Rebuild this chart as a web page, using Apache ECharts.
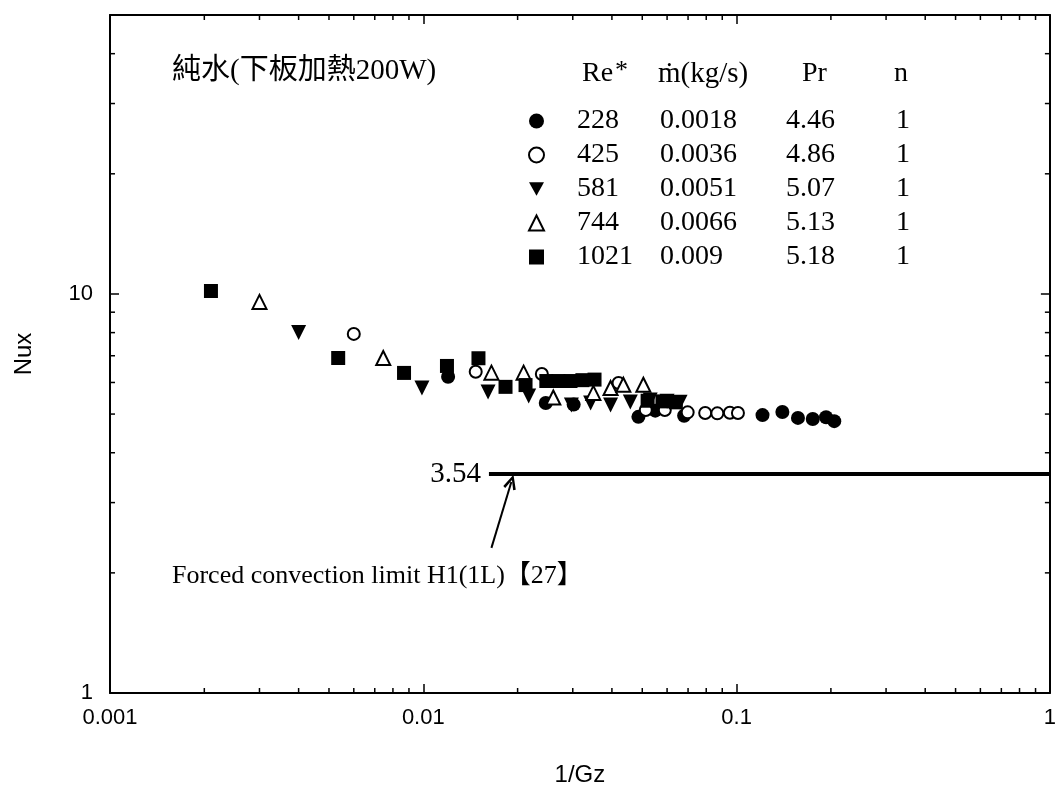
<!DOCTYPE html>
<html>
<head>
<meta charset="utf-8">
<script src="https://cdn.jsdelivr.net/npm/echarts@6/dist/echarts.min.js"></script>
<style>
  html, body { margin: 0; padding: 0; background: #fff; }
  #chart { width: 1059px; height: 796px; }
</style>
</head>
<body>
<div id="chart"></div>
<script>
// legend table
const reNames = ['228', '425', '581', '744', '1021'];
const massFlow = ['0.0018', '0.0036', '0.0051', '0.0066', '0.009'];
const prandtl = ['4.46', '4.86', '5.07', '5.13', '5.18'];
const nValues = ['1', '1', '1', '1', '1'];

// [1/Gz, Nux]
const re228 = [[0.012, 6.2], [0.0246, 5.33], [0.0302, 5.28], [0.0486, 4.92], [0.055, 5.1], [0.068, 4.95],
  [0.121, 4.97], [0.14, 5.06], [0.157, 4.89], [0.175, 4.86], [0.193, 4.91], [0.205, 4.8]];
const re425 = [[0.006, 7.94], [0.0147, 6.38], [0.0239, 6.3], [0.042, 5.98], [0.0513, 5.12], [0.059, 5.12],
  [0.0698, 5.05], [0.0794, 5.03], [0.0868, 5.02], [0.0952, 5.04], [0.101, 5.03]];
const re581 = [[0.004, 8.0], [0.0099, 5.81], [0.0161, 5.68], [0.0217, 5.55], [0.0297, 5.27], [0.0342, 5.33],
  [0.0396, 5.27], [0.0458, 5.36], [0.053, 5.42], [0.06, 5.38], [0.066, 5.35]];
const re744 = [[0.003, 9.55], [0.00745, 6.91], [0.0165, 6.35], [0.0209, 6.35], [0.026, 5.5], [0.0349, 5.65],
  [0.0396, 5.81], [0.0435, 5.92], [0.0504, 5.92]];
const re1021 = [[0.0021, 10.17], [0.00535, 6.91], [0.00868, 6.34], [0.0119, 6.6], [0.015, 6.9], [0.0183, 5.85],
  [0.0212, 5.91], [0.0247, 6.05], [0.027, 6.05], [0.0295, 6.05], [0.0322, 6.08], [0.0352, 6.1],
  [0.052, 5.4], [0.058, 5.38], [0.064, 5.35]];

// forced convection limit line and its arrow
const limitNu = 3.54;
const limitRange = [0.0162, 1];
const arrowTail = [0.0165, 2.31];
const arrowHead = [0.0191, 3.38];

const xTickLabels = ['0.001', '0.01', '0.1', '1'];
const yTickLabels = ['1', '10'];
const xMinorTicks = [0.002, 0.003, 0.004, 0.005, 0.006, 0.007, 0.008, 0.009,
  0.02, 0.03, 0.04, 0.05, 0.06, 0.07, 0.08, 0.09,
  0.2, 0.3, 0.4, 0.5, 0.6, 0.7, 0.8, 0.9];
const yMinorTicks = [2, 3, 4, 5, 6, 7, 8, 9, 20, 30, 40];

const serif = '"Liberation Serif", "Noto Sans CJK TC", serif';
const sans = '"Liberation Sans", Arial, sans-serif';
const triDown = 'path://M0,0L10,0L5,9Z';
const arrowOpen = 'path://M0,10L5,0L10,10L8.2,10.9L5,3.9L1.8,10.9Z';

const markers = [
  {data: re228, symbol: 'circle', size: 14},
  {data: re425, symbol: 'emptyCircle', size: 12},
  {data: re581, symbol: triDown, size: 15},
  {data: re744, symbol: 'emptyTriangle', size: 14},
  {data: re1021, symbol: 'rect', size: 14},
];

const tickStyle = {stroke: '#000', lineWidth: 1.5};
function minorTicks(items, dir) {
  return {
    type: 'custom',
    silent: true,
    clip: false,
    z: 5,
    data: items,
    renderItem(params, api) {
      const cs = params.coordSys;
      const p = api.coord([api.value(0), api.value(1)]);
      const len = 5;
      if (dir === 'x') {
        const b = cs.y + cs.height;
        return {type: 'group', children: [
          {type: 'line', shape: {x1: p[0], y1: b, x2: p[0], y2: b - len}, style: tickStyle},
          {type: 'line', shape: {x1: p[0], y1: cs.y, x2: p[0], y2: cs.y + len}, style: tickStyle}
        ]};
      }
      const r = cs.x + cs.width;
      return {type: 'group', children: [
        {type: 'line', shape: {x1: cs.x, y1: p[1], x2: cs.x + len, y2: p[1]}, style: tickStyle},
        {type: 'line', shape: {x1: r, y1: p[1], x2: r - len, y2: p[1]}, style: tickStyle}
      ]};
    }
  };
}

const axisCommon = {
  type: 'log',
  logBase: 10,
  axisLine: {lineStyle: {color: '#000', width: 2}},
  axisTick: {inside: true, length: 9, lineStyle: {color: '#000', width: 1.5}},
  splitLine: {show: false},
  minorTick: {show: false}
};

const chart = echarts.init(document.getElementById('chart'));
const series = markers.map((m, i) => ({
  name: reNames[i],
  type: 'scatter',
  data: m.data,
  symbol: m.symbol,
  symbolSize: m.size,
  itemStyle: {color: '#000', borderColor: '#000', borderWidth: m.symbol.startsWith('empty') ? 2 : 0, opacity: 1},
  emphasis: {disabled: true},
  z: 3
}));

series.push({
  type: 'line',
  data: [[limitRange[0], limitNu], [limitRange[1], limitNu]],
  symbol: 'none',
  lineStyle: {color: '#000', width: 4},
  silent: true,
  z: 2,
  markLine: {
    silent: true,
    animation: false,
    symbolSize: [13, 15],
    data: [
      [{coord: [limitRange[0], limitNu], symbol: 'none', lineStyle: {width: 0},
        label: {show: true, position: 'start', formatter: String(limitNu), distance: 8,
          color: '#000', fontFamily: serif, fontSize: 29}},
       {coord: [limitRange[1], limitNu], symbol: 'none'}],
      [{coord: arrowTail, symbol: 'none'},
       {coord: arrowHead, symbol: arrowOpen, symbolSize: [13, 15]}]
    ],
    lineStyle: {color: '#000', width: 2, type: 'solid'},
    label: {show: false}
  }
});

series.push(minorTicks(xMinorTicks.map(v => [v, 1]), 'x'));
series.push(minorTicks(yMinorTicks.map(v => [0.001, v]), 'y'));

const tickFont = {color: '#000', fontFamily: sans, fontSize: 22};
const nameFont = {color: '#000', fontFamily: sans, fontSize: 24};

chart.setOption({
  animation: false,
  backgroundColor: '#fff',
  grid: {left: 110, right: 6, top: 15, bottom: 103, containLabel: false},
  xAxis: [
    Object.assign({}, axisCommon, {
      min: 0.001, max: 1, position: 'bottom',
      name: '1/Gz', nameLocation: 'middle', nameGap: 70,
      nameTextStyle: nameFont,
      axisLabel: Object.assign({}, tickFont, {margin: 14,
        formatter: v => xTickLabels[Math.round(Math.log10(v)) + 3] || ''})
    }),
    Object.assign({}, axisCommon, {
      min: 0.001, max: 1, position: 'top', axisLabel: {show: false}
    })
  ],
  yAxis: [
    Object.assign({}, axisCommon, {
      min: 1, max: 50, position: 'left',
      name: 'Nux', nameLocation: 'middle', nameGap: 74,
      nameTextStyle: nameFont,
      axisLabel: Object.assign({}, tickFont, {margin: 17, showMaxLabel: false,
        formatter: v => {
          const k = Math.log10(v);
          return Math.abs(k - Math.round(k)) < 1e-6 ? (yTickLabels[Math.round(k)] || '') : '';
        }})
    }),
    Object.assign({}, axisCommon, {
      min: 1, max: 50, position: 'right', axisLabel: {show: false}
    })
  ],
  legend: {
    data: reNames,
    orient: 'vertical',
    left: 523,
    top: 102,
    itemWidth: 15,
    itemHeight: 15,
    itemGap: 6,
    selectedMode: false,
    formatter: name => {
      const i = reNames.indexOf(name);
      return `{s|}{a|${name}}{b|${massFlow[i]}}{c|${prandtl[i]}}{d|${nValues[i]}}`;
    },
    textStyle: {
      color: '#000', fontFamily: serif, fontSize: 28,
      rich: {
        s: {width: 28, fontFamily: serif, fontSize: 28, lineHeight: 28},
        a: {width: 83, fontFamily: serif, fontSize: 28, lineHeight: 28},
        b: {width: 126, fontFamily: serif, fontSize: 28, lineHeight: 28},
        c: {width: 110, fontFamily: serif, fontSize: 28, lineHeight: 28},
        d: {fontFamily: serif, fontSize: 28, lineHeight: 28}
      }
    }
  },
  graphic: [
    {type: 'text', left: 172, top: 57, silent: true,
      style: {text: '純水(下板加熱200W)', fill: '#000', font: '29px ' + serif}},
    {type: 'text', left: 582, top: 58, silent: true,
      style: {text: '{m|Re}{sup|*}', fill: '#000',
        rich: {m: {fontFamily: serif, fontSize: 28, verticalAlign: 'bottom', lineHeight: 30},
               sup: {fontFamily: serif, fontSize: 26, verticalAlign: 'top', lineHeight: 30, padding: [0, 0, 10, 2]}}}},
    {type: 'text', left: 658, top: 60, silent: true,
      style: {text: 'ṁ(kg/s)', fill: '#000', font: '29px ' + serif}},
    {type: 'text', left: 802, top: 60, silent: true,
      style: {text: 'Pr', fill: '#000', font: '28px ' + serif}},
    {type: 'text', left: 894, top: 60, silent: true,
      style: {text: 'n', fill: '#000', font: '28px ' + serif}},
    {type: 'text', left: 172, top: 563, silent: true,
      style: {text: 'Forced convection limit H1(1L)【27】', fill: '#000', font: '26px ' + serif}}
  ],
  series: series
});
</script>
</body>
</html>
